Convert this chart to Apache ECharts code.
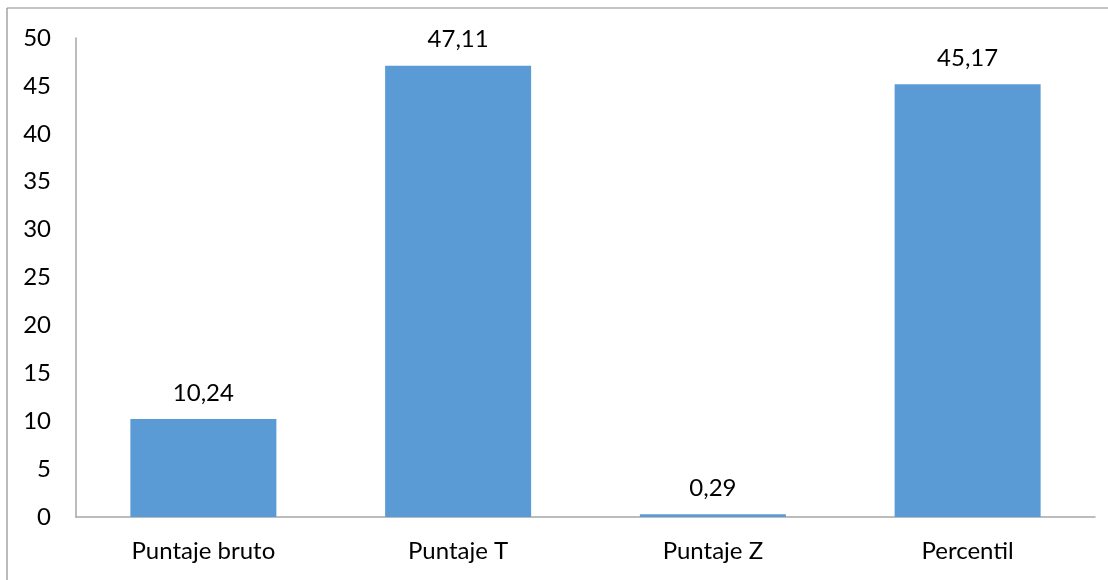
<!DOCTYPE html>
<html><head><meta charset="utf-8">
<script src="https://cdn.jsdelivr.net/npm/echarts@6/dist/echarts.min.js"></script>
<style>html,body{margin:0;padding:0;background:#fff}#c{width:1108px;height:580px}</style>
</head><body><div id="c"></div>
<script>
const categories = ['Puntaje bruto', 'Puntaje T', 'Puntaje Z', 'Percentil'];
const values = [10.24, 47.11, 0.29, 45.17];
const yTicks = { min: 0, max: 50, interval: 5 };

const chart = echarts.init(document.getElementById('c'));
const font = 'Lato, "Open Sans", sans-serif';
chart.setOption({
  animation: false,
  grid: { left: 76, right: 13, top: 38, bottom: 63, containLabel: false },
  xAxis: {
    type: 'category', data: categories,
    axisLine: { lineStyle: { color: '#A6A6A6', width: 1.5 } },
    axisTick: { show: false },
    axisLabel: { color: '#000', fontFamily: font, fontSize: 24, margin: 22 }
  },
  yAxis: {
    type: 'value', min: yTicks.min, max: yTicks.max, interval: yTicks.interval,
    axisLine: { show: true, lineStyle: { color: '#A6A6A6', width: 1.5 } },
    axisTick: { show: false },
    splitLine: { show: false },
    axisLabel: { color: '#000', fontFamily: font, fontSize: 24, margin: 25 }
  },
  series: [{
    type: 'bar', data: values, barWidth: 146,
    itemStyle: { color: '#5B9BD5' },
    label: { show: true, position: 'top', distance: 14, color: '#000', fontFamily: font, fontSize: 24,
      formatter: p => String(p.value.toFixed(2)).replace('.', ',') }
  }],
  graphic: [
    { type: 'line', shape: { x1: 7, y1: 8, x2: 1108, y2: 8 }, style: { stroke: '#8C8C8C', lineWidth: 1.2 } },
    { type: 'line', shape: { x1: 7, y1: 8, x2: 7, y2: 580 }, style: { stroke: '#8C8C8C', lineWidth: 1.2 } }
  ]
});
</script></body></html>
